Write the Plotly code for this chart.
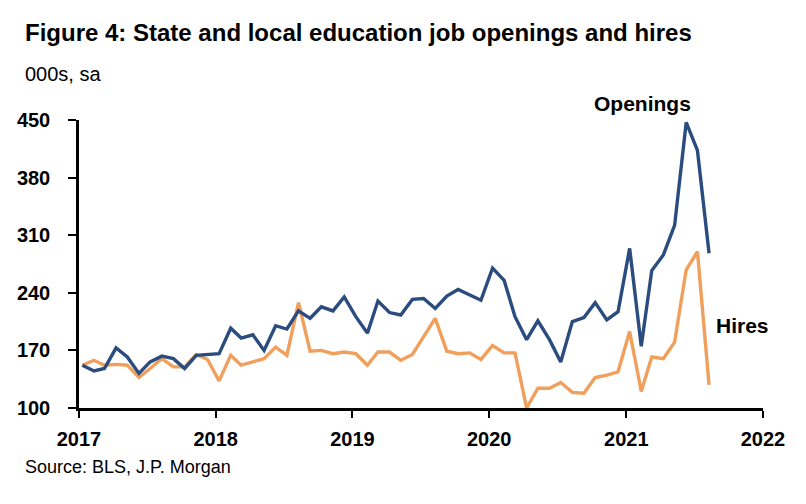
import pandas as pd
import plotly.graph_objects as go

months = pd.date_range("2017-01-01", "2021-08-01", freq="MS") + pd.Timedelta(days=9)

openings = [
    152, 145, 148, 173, 162, 142, 156, 163, 160, 148, 164, 165,
    166, 197, 185, 189, 170, 200, 196, 218, 209, 223, 218, 235,
    211, 191, 230, 216, 213, 232, 233, 221, 236, 244, 237, 231,
    270, 255, 211, 183, 206, 183, 156, 205, 210, 228, 207, 217,
    294, 175, 267, 286, 322, 447, 413, 288,
]
hires = [
    152, 158, 152, 153, 152, 137, 148, 160, 150, 150, 165, 159,
    133, 164, 152, 156, 160, 174, 164, 228, 169, 170, 166, 168,
    166, 152, 168, 168, 158, 165, 187, 209, 169, 166, 167, 159,
    176, 167, 167, 100, 124, 124, 131, 119, 118, 137, 140, 144,
    193, 120, 162, 160, 180, 268, 290, 128,
]

y_ticks = [100, 170, 240, 310, 380, 450]
x_ticks = ["2017-01-01", "2018-01-01", "2019-01-01", "2020-01-01", "2021-01-01", "2022-01-01"]
x_labels = ["2017", "2018", "2019", "2020", "2021", "2022"]

title = "Figure 4: State and local education job openings and hires"
subtitle = "000s, sa"
source = "Source: BLS, J.P. Morgan"

BLUE = "#2B4C7E"
ORANGE = "#F0A05C"
FONT = "Liberation Sans, Arial, sans-serif"

fig = go.Figure()
fig.add_trace(go.Scatter(x=months, y=hires, mode="lines", name="Hires",
                         line=dict(color=ORANGE, width=3.4)))
fig.add_trace(go.Scatter(x=months, y=openings, mode="lines", name="Openings",
                         line=dict(color=BLUE, width=3.4)))

W, H = 806, 504
L, R, T, B = 78.5, 43.3, 119.5, 96
pw, ph = W - L - R, H - T - B

def px(x):
    return (x - L) / pw

def py(y):
    return (H - B - y) / ph

fig.update_layout(
    width=W, height=H,
    margin=dict(l=L, r=R, t=T, b=B, pad=0),
    paper_bgcolor="white", plot_bgcolor="white",
    showlegend=False,
    font=dict(family=FONT, color="black"),
    xaxis=dict(
        type="date", range=["2017-01-01", "2022-01-01"],
        tickvals=x_ticks, ticktext=x_labels,
        showgrid=False, zeroline=False,
        showline=True, linecolor="black", linewidth=2.5,
        ticks="outside", ticklen=7, tickwidth=2, tickcolor="black",
        tickfont=dict(size=20, family=FONT, weight="bold"),
        ticklabelstandoff=4,
    ),
    yaxis=dict(
        range=[100, 450], tickvals=y_ticks,
        showgrid=False, zeroline=False,
        showline=True, linecolor="black", linewidth=2.5,
        ticks="outside", ticklen=8, tickwidth=2, tickcolor="black",
        tickfont=dict(size=20, family=FONT, weight="bold"),
        ticklabelstandoff=14,
    ),
)

fig.add_annotation(text=title, xref="paper", yref="paper", x=px(22), y=py(32),
                   xanchor="left", yanchor="middle", showarrow=False,
                   font=dict(size=24, family=FONT, weight="bold"))
fig.add_annotation(text=subtitle, xref="paper", yref="paper", x=px(22), y=py(73),
                   xanchor="left", yanchor="middle", showarrow=False,
                   font=dict(size=20, family=FONT))
fig.add_annotation(text=source, xref="paper", yref="paper", x=px(22), y=py(467),
                   xanchor="left", yanchor="middle", showarrow=False,
                   font=dict(size=18, family=FONT))
fig.add_annotation(text="Openings", xref="paper", yref="paper", x=px(642), y=py(103),
                   xanchor="center", yanchor="middle", showarrow=False,
                   font=dict(size=21, family=FONT, weight="bold"))
fig.add_annotation(text="Hires", xref="paper", yref="paper", x=px(742), y=py(325),
                   xanchor="center", yanchor="middle", showarrow=False,
                   font=dict(size=21, family=FONT, weight="bold"))

fig.write_html("out.html")
